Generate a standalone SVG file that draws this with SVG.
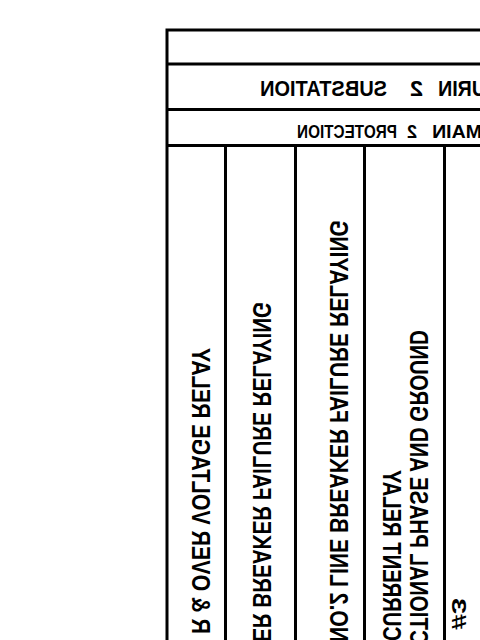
<svg xmlns="http://www.w3.org/2000/svg" width="480" height="640" viewBox="0 0 480 640">
<style>
.ln{stroke:#000;stroke-width:3;fill:none;stroke-linejoin:miter}
.t{font-family:"Liberation Sans",Arial,sans-serif;font-weight:bold;fill:#000}
.v{font-size:25px}
</style>
<rect width="480" height="640" fill="#fff"/>
<g id="grid">
<path class="ln" d="M480 30H167V640"/>
<path class="ln" d="M167 64H480M167 109.5H480M167 145.5H480"/>
<path class="ln" d="M225.5 145.5V640M295.5 145.5V640M364.5 145.5V640M444.5 145.5V640"/>
</g>
<g id="title-substation">
<text class="t" font-size="22" transform="matrix(-1,0,0,1,486,96)"><tspan x="0" textLength="48" lengthAdjust="spacingAndGlyphs">URIN</tspan><tspan x="63" textLength="13" lengthAdjust="spacingAndGlyphs">2</tspan><tspan x="99" textLength="127" lengthAdjust="spacingAndGlyphs">SUBSTATION</tspan></text>
</g>
<g id="title-protection">
<text class="t" font-size="18" transform="matrix(-1,0,0,1,482,137.5)"><tspan x="0" textLength="50" lengthAdjust="spacingAndGlyphs">MAIN</tspan><tspan x="65" textLength="10" lengthAdjust="spacingAndGlyphs">2</tspan><tspan x="85" textLength="100" lengthAdjust="spacingAndGlyphs">PROTECTION</tspan></text>
</g>
<g id="col1">
<text class="t v" transform="matrix(0,-1,-1,0,192,634)" textLength="286" lengthAdjust="spacingAndGlyphs">R &amp; OVER VOLTAGE RELAY</text>
</g>
<g id="col2">
<text class="t v" transform="matrix(0,-1,-1,0,253,642)" textLength="340" lengthAdjust="spacingAndGlyphs">ER BREAKER FAILURE RELAYING</text>
</g>
<g id="col3">
<text class="t v" transform="matrix(0,-1,-1,0,330,642)" textLength="422" lengthAdjust="spacingAndGlyphs">NO.2 LINE BREAKER FAILURE RELAYING</text>
</g>
<g id="col4">
<text class="t v" transform="matrix(0,-1,-1,0,410,645)" textLength="315" lengthAdjust="spacingAndGlyphs">CTIONAL PHASE AND GROUND</text>
<text class="t v" transform="matrix(0,-1,-1,0,383,641)" textLength="171" lengthAdjust="spacingAndGlyphs">CURRENT RELAY</text>
</g>
<g id="col5">
<text class="t" font-size="20" transform="matrix(0,-1,-1,0,452,630)" textLength="32" lengthAdjust="spacingAndGlyphs">#3</text>
</g>
</svg>
